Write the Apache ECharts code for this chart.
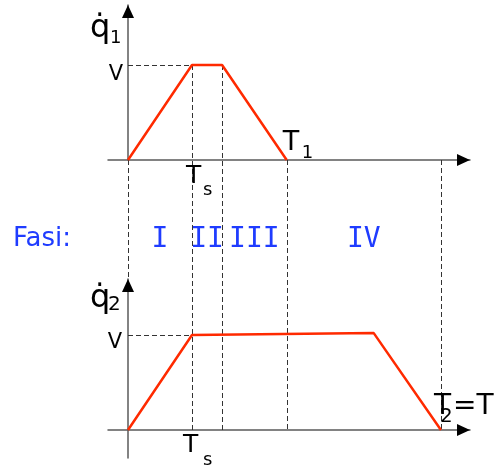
<!DOCTYPE html>
<html>
<head>
<meta charset="utf-8">
<script src="https://cdn.jsdelivr.net/npm/echarts@6/dist/echarts.min.js"></script>
<style>
  html, body { margin: 0; padding: 0; background: #fff; }
  #chart { width: 496px; height: 468px; }
</style>
</head>
<body>
<div id="chart"></div>
<script>
// Trapezoidal velocity profiles of two joints, synchronised on the slower one.
// Time in units of Ts, velocity in units of V.
const Ts = 1;
const T1 = 2.48;
const T2 = 4.89;
const q1Time = [0, Ts, 1.47, T1];
const q1Vel = [0, 1, 1, 0];
const q2Time = [0, Ts, 3.84, T2];
const q2Vel = [0, 1, 1.02, 0];
// phase boundaries: start, end of accel, end of cruise of joint 1, T1, T2
const phaseBounds = [0, Ts, 1.47, T1, T2];
const phaseNames = ['I', 'II', 'III', 'IV'];
const phaseTitle = 'Fasi:';

const RED = '#ff2a00';
const BLUE = '#1f3cff';
const AXIS = '#5a5a5a';
const SANS = '"DejaVu Sans", sans-serif';
const MONO = '"DejaVu Sans Mono", monospace';

const xMin = -0.3125, xMax = 5.34375;

function axisX(gridIndex) {
  return {
    type: 'value', gridIndex, min: xMin, max: xMax,
    axisLine: { onZero: true, lineStyle: { color: AXIS, width: 1.5 } },
    axisTick: { show: false }, axisLabel: { show: false }, splitLine: { show: false }
  };
}
function axisY(gridIndex, min, max) {
  return {
    type: 'value', gridIndex, min, max,
    axisLine: { onZero: true, lineStyle: { color: AXIS, width: 1.5 } },
    axisTick: { show: false }, axisLabel: { show: false }, splitLine: { show: false }
  };
}
function pairs(t, v) { return t.map((x, i) => [x, v[i]]); }

const chart = echarts.init(document.getElementById('chart'));
const y1Max = 155 / 95, y2Min = -28 / 95, y2Max = 151 / 95;
chart.setOption({
  animation: false,
  grid: [
    { left: 108, width: 362, top: 5, height: 155 },
    { left: 108, width: 362, top: 279, height: 179 }
  ],
  xAxis: [axisX(0), axisX(1)],
  yAxis: [axisY(0, 0, y1Max), axisY(1, y2Min, y2Max)],
  series: [
    { type: 'line', xAxisIndex: 0, yAxisIndex: 0, data: pairs(q1Time, q1Vel),
      symbol: 'none', z: 5, lineStyle: { color: RED, width: 2.5 } },
    { type: 'line', xAxisIndex: 1, yAxisIndex: 1, data: pairs(q2Time, q2Vel),
      symbol: 'none', z: 5, lineStyle: { color: RED, width: 2.5 } }
  ]
});

const g0 = (x, y) => chart.convertToPixel({ gridIndex: 0 }, [x, y]);
const g1 = (x, y) => chart.convertToPixel({ gridIndex: 1 }, [x, y]);

const graphics = [];
const crisp = v => Math.round(v) + 0.5;
function dashed(a, b) {
  const vertical = Math.abs(a[0] - b[0]) < 0.01;
  graphics.push({ type: 'line', z: 1, silent: true,
    shape: vertical
      ? { x1: crisp(a[0]), y1: a[1], x2: crisp(b[0]), y2: b[1] }
      : { x1: a[0], y1: crisp(a[1]), x2: b[0], y2: crisp(b[1]) },
    style: { stroke: '#333', lineWidth: 1, lineDash: [5, 3] } });
}
// text placed by its left/right/centre x and its alphabetic baseline
function text(s, x, baseline, size, family, fill, align) {
  graphics.push({ type: 'text', z: 10, silent: true,
    style: { text: s, x, y: baseline - 0.75 * size, font: size + 'px ' + family,
      fill: fill || '#000', textAlign: align || 'left', align: align || 'left',
      textVerticalAlign: 'top', verticalAlign: 'top' } });
}
function arrowUp(tip) {
  graphics.push({ type: 'polygon', z: 6, silent: true,
    shape: { points: [[tip[0], tip[1]], [tip[0] - 6, tip[1] + 13], [tip[0] + 6, tip[1] + 13]] },
    style: { fill: '#000' } });
}
function arrowRight(tip) {
  graphics.push({ type: 'polygon', z: 6, silent: true,
    shape: { points: [[tip[0], tip[1]], [tip[0] - 13, tip[1] - 6], [tip[0] - 13, tip[1] + 6]] },
    style: { fill: '#000' } });
}

// axis arrows
arrowUp(g0(0, y1Max));
arrowRight(g0(xMax, 0));
arrowUp(g1(0, y2Max));
arrowRight(g1(xMax, 0));

// phase boundaries running through both plots
dashed(g0(phaseBounds[0], 0), g1(phaseBounds[0], y2Max));
dashed(g0(phaseBounds[1], q1Vel[1]), g1(phaseBounds[1], 0));
dashed(g0(phaseBounds[2], q1Vel[2]), g1(phaseBounds[2], 0));
dashed(g0(phaseBounds[3], 0), g1(phaseBounds[3], 0));
dashed(g0(phaseBounds[4], 0), g1(phaseBounds[4], 0));
// V reference levels
dashed(g0(0, 1), g0(Ts, 1));
dashed(g1(0, 1), g1(Ts, 1));

// vertical axis titles
const o0 = g0(0, 0), o1 = g1(0, 0);
text('q\u0307', o0[0] - 38, 37, 32, SANS);
text('1', o0[0] - 18, 43, 18, SANS);
text('q\u0307', o1[0] - 38, 307, 32, SANS);
text('2', o1[0] - 20, 310, 20, SANS);

// V labels
const v0 = g0(0, 1), v1 = g1(0, 1);
text('V', v0[0] - 5, v0[1] + 15, 21, SANS, '#000', 'right');
text('V', v1[0] - 6, v1[1] + 13, 21, SANS, '#000', 'right');

// Ts labels under both plots
const ts0 = g0(Ts, 0), ts1 = g1(Ts, 0);
text('T', ts0[0] - 6, ts0[1] + 23, 25, SANS);
text('s', ts0[0] + 11, ts0[1] + 35, 18, SANS);
text('T', ts1[0] - 9, ts1[1] + 22, 25, SANS);
text('s', ts1[0] + 11, ts1[1] + 35, 18, SANS);

// T1 and T2 = T
const t1p = g0(T1, 0);
text('T', t1p[0] - 4, t1p[1] - 10, 27, SANS);
text('1', t1p[0] + 15, t1p[1] - 2, 18, SANS);
const t2p = g1(T2, 0);
text('T', t2p[0] - 7, t2p[1] - 16, 28, SANS);
text('2', t2p[0] - 1, t2p[1] - 8, 20, SANS);
text('=T', t2p[0] + 12, t2p[1] - 16, 28, SANS);

// phase labels between boundaries
text(phaseTitle, 13, 246, 26, SANS, BLUE);
phaseNames.forEach((name, i) => {
  const xm = (phaseBounds[i] + phaseBounds[i + 1]) / 2;
  const p = g0(xm, 0);
  text(name, p[0], 247, 28, MONO, BLUE, 'center');
});

chart.setOption({ graphic: graphics });
</script>
</body>
</html>
